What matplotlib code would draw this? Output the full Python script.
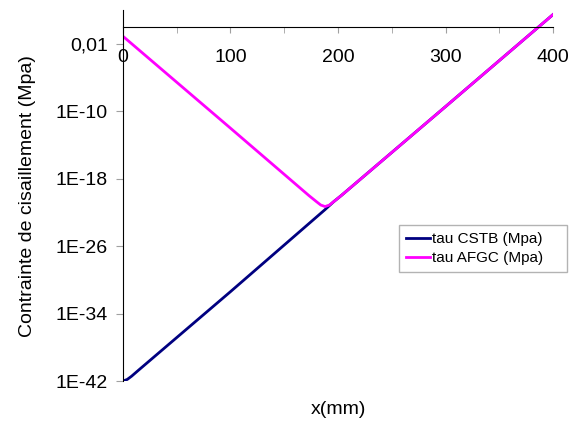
import numpy as np
import matplotlib
matplotlib.use('Agg')
import matplotlib.pyplot as plt
from matplotlib.ticker import MultipleLocator, FixedLocator

plt.rcParams['font.family'] = ['Liberation Sans', 'DejaVu Sans']

# valeurs (x en mm, tau en Mpa)
x_cstb = [0, 4, 8, 15, 100, 188, 196, 203, 300, 400]
tau_cstb = [1e-42, 1.55e-42, 3.7e-42, 2.2e-41, 4e-32, 2.2e-22, 1.9e-21, 1.0e-20, 3.6e-10, 30]

x_afgc = [0, 100, 173, 180, 184, 188, 192, 196, 203, 300, 400]
tau_afgc = [0.08, 1e-12, 1.0e-20, 1.9e-21, 7.6e-22, 5e-22, 7.6e-22, 1.9e-21, 1.0e-20, 3.6e-10, 30]

yticks = [1e-42, 1e-34, 1e-26, 1e-18, 1e-10, 1e-2]
ylabels = ['1E-42', '1E-34', '1E-26', '1E-18', '1E-10', '0,01']

fig = plt.figure(figsize=(5.69, 4.22), dpi=100)
ax = fig.add_axes([0.216, 0.097, 0.756, 0.879])

ax.plot(x_cstb, tau_cstb, color='#000080', lw=2, label='tau CSTB (Mpa)')
ax.plot(x_afgc, tau_afgc, color='#ff00ff', lw=2, label='tau AFGC (Mpa)')

ax.set_yscale('log')
ax.set_xlim(0, 400)
ax.set_ylim(1e-42, 1e2)

ax.spines['top'].set_visible(False)
ax.spines['right'].set_visible(False)
ax.spines['bottom'].set_position(('data', 1))
ax.spines['bottom'].set_bounds(0, 400)

ax.xaxis.set_major_locator(MultipleLocator(100))
ax.xaxis.set_minor_locator(MultipleLocator(50))
ax.tick_params(axis='x', which='both', direction='out', length=4, color='#a0a0a0',
               labelsize=14, pad=12)
ax.yaxis.set_major_locator(FixedLocator(yticks))
ax.yaxis.set_minor_locator(FixedLocator([]))
ax.set_yticklabels(ylabels)
ax.tick_params(axis='y', which='both', direction='out', length=5, color='#a0a0a0',
               labelsize=14, pad=6)

ax.set_ylabel('Contrainte de cisaillement (Mpa)', fontsize=14, labelpad=14)
fig.text(338 / 569, 1 - 410 / 422, 'x(mm)', fontsize=14, ha='center', va='center')

leg = ax.legend(loc='upper left', bbox_to_anchor=(399 / 569, 1 - 271 / 422, 168 / 569, 46 / 422),
                bbox_transform=fig.transFigure, mode='expand', fontsize=11, frameon=True,
                fancybox=False, handlelength=1.6, handletextpad=0.1,
                borderpad=0.45, labelspacing=0.35, borderaxespad=0)
leg.get_frame().set_edgecolor('#a0a0a0')
leg.get_frame().set_linewidth(1)

plt.savefig('out.png', dpi=100)
